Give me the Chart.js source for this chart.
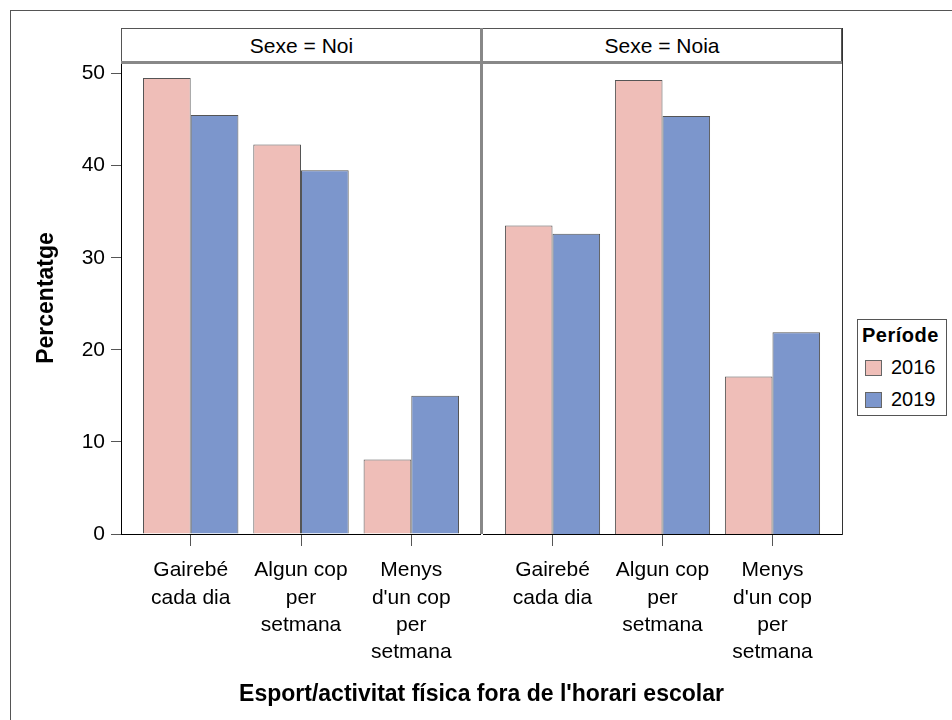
<!DOCTYPE html>
<html>
<head>
<meta charset="utf-8">
<script src="https://cdn.jsdelivr.net/npm/chart.js@4/dist/chart.umd.min.js"></script>
<style>
  body { margin: 0; background: #fff; font-family: "Liberation Sans", Arial, sans-serif; color: #000; }
  #wrap { position: relative; width: 952px; height: 720px; overflow: hidden; }
  .abs { position: absolute; }
  #frame { left: 10px; top: 10px; width: 960px; height: 720px; border-left: 1px solid #555; border-top: 1px solid #555; }
  .hdr { top: 28px; height: 33px; border-top: 1px solid #555; font-size: 21px; text-align: center; line-height: 33px; }
  #xtitle { left: 121px; width: 721px; top: 680px; text-align: center; font-weight: bold; font-size: 23px; }
  #legend { left: 857px; top: 319px; width: 88px; height: 95px; border: 1px solid #555; }
  #legend .t { position: absolute; left: 4px; top: 4px; font-weight: bold; font-size: 20px; letter-spacing: 0.5px; }
  #legend .it { position: absolute; left: 7px; font-size: 20px; line-height: 20px; }
  #legend .sw { display: inline-block; width: 15px; height: 14px; border: 1px solid #666; vertical-align: -2px; margin-right: 9px; }
</style>
</head>
<body>
<div id="wrap">
  <div id="frame" class="abs"></div>
  <canvas id="noi" class="abs" width="481" height="640" style="left:0;top:62px"></canvas>
  <canvas id="noia" class="abs" width="359" height="640" style="left:483px;top:62px"></canvas>
  <div class="abs hdr" id="h1" style="left:121px;width:359px;border-left:1px solid #555"></div>
  <div class="abs hdr" id="h2" style="left:483px;width:358px;border-right:1px solid #555"></div>
  <div class="abs" style="left:121px;top:61px;width:722px;height:3px;background:#888"></div>
  <div class="abs" style="left:480px;top:28px;width:3px;height:506px;background:#888"></div>
  <div class="abs" style="left:842px;top:28px;width:1px;height:507px;background:#333"></div>
  <div class="abs" id="xtitle"></div>
  <div class="abs" id="legend"></div>
</div>
<script>
// Data
const panels = ["Sexe = Noi", "Sexe = Noia"];
const categories = ["Gairebé cada dia", "Algun cop per setmana", "Menys d'un cop per setmana"];
const tickLines = [["Gairebé", "cada dia"], ["Algun cop", "per", "setmana"], ["Menys", "d'un cop", "per", "setmana"]];
const periods = ["2016", "2019"];
const noi2016 = [49.5, 42.3, 8.1];
const noi2019 = [45.5, 39.5, 15.0];
const noia2016 = [33.5, 49.3, 17.1];
const noia2019 = [32.6, 45.4, 21.9];
const yTicks = [0, 10, 20, 30, 40, 50];
const colors = ["#EFBEB8", "#7C96CC"];

const yTitle = "Percentatge";
const xTitle = "Esport/activitat física fora de l'horari escolar";
const legendTitle = "Període";

Chart.defaults.font.family = "'Liberation Sans', Arial, sans-serif";
Chart.defaults.color = "#000";

function makeDatasets(a, b) {
    return [a, b].map((vals, k) => ({
        label: periods[k],
        data: vals.map((v, i) => ({ x: i, y: v })),
        backgroundColor: colors[k],
        borderColor: "#555",
        borderWidth: 1,
        categoryPercentage: 0.865,
        barPercentage: 1
    }));
}

function makeChart(id, a, b, showY) {
    const ctx = document.getElementById(id).getContext("2d");
    return new Chart(ctx, {
        type: "bar",
        data: { datasets: makeDatasets(a, b) },
        options: {
            responsive: false,
            animation: false,
            layout: { padding: 0 },
            plugins: { legend: { display: false }, tooltip: { enabled: false } },
            scales: {
                x: {
                    type: "linear",
                    min: -0.632,
                    max: 2.632,
                    offset: false,
                    grid: { offset: false, drawOnChartArea: false, drawTicks: true, tickLength: 12, color: "#555" },
                    border: { display: true, color: "#000", width: 1 },
                    ticks: {
                        font: { size: 21, lineHeight: 1.3 },
                        padding: 11,
                        maxRotation: 0,
                        autoSkip: false,
                        callback: (v) => tickLines[v]
                    },
                    afterBuildTicks: (s) => { s.ticks = categories.map((c, i) => ({ value: i })); },
                    afterFit: (s) => { s.height = 168; s.paddingLeft = 0; s.paddingRight = 0; }
                },
                y: {
                    display: showY,
                    min: 0,
                    max: 51.25,
                    grid: { drawOnChartArea: false, drawTicks: true, tickLength: 10, color: "#555" },
                    border: { display: true, color: "#000", width: 1 },
                    ticks: { stepSize: 10, includeBounds: false, font: { size: 21 }, padding: 6 },
                    afterBuildTicks: (s) => { s.ticks = yTicks.map(v => ({ value: v })); },
                    title: {
                        display: true,
                        text: yTitle,
                        font: { size: 23, weight: "bold" },
                        padding: { top: 33, bottom: 0 }
                    },
                    afterFit: (s) => {
                        if (showY) s.width = 121;
                        s.paddingTop = 0;
                        s.paddingBottom = 0;
                    }
                }
            }
        }
    });
}

makeChart("noi", noi2016, noi2019, true);
makeChart("noia", noia2016, noia2019, false);

// facet headers, axis title and legend
document.getElementById("h1").textContent = panels[0];
document.getElementById("h2").textContent = panels[1];
document.getElementById("xtitle").textContent = xTitle;

const legend = document.getElementById("legend");
legend.innerHTML = '<div class="t"></div>';
legend.querySelector(".t").textContent = legendTitle;
periods.forEach((p, k) => {
    const it = document.createElement("div");
    it.className = "it";
    it.style.top = (37 + k * 32) + "px";
    it.innerHTML = '<span class="sw" style="background:' + colors[k] + '"></span>' + p;
    legend.appendChild(it);
});
</script>
</body>
</html>
